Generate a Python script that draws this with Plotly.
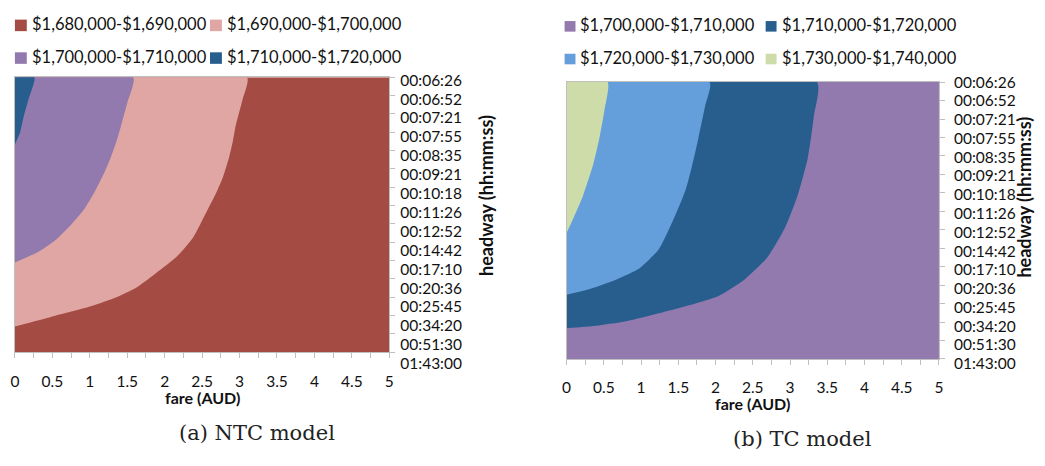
import plotly.graph_objects as go

W, H = 1045, 466

# ---------------- data ----------------
fare_ticks = [0, 0.5, 1, 1.5, 2, 2.5, 3, 3.5, 4, 4.5, 5]
headway_labels = ["00:06:26", "00:06:52", "00:07:21", "00:07:55", "00:08:35", "00:09:21",
                  "00:10:18", "00:11:26", "00:12:52", "00:14:42", "00:17:10", "00:20:36",
                  "00:25:45", "00:34:20", "00:51:30", "01:43:00"]

# NTC model: bands and boundaries (fare at headway-row position, row 0 = 00:06:26)
ntc_names = ["$1,680,000-$1,690,000", "$1,690,000-$1,700,000",
             "$1,700,000-$1,710,000", "$1,710,000-$1,720,000"]
ntc_colors = ["#A44B43", "#E0A6A4", "#9279AE", "#275E8E"]
ntc_b1690_fare = [3.10, 3.04, 2.95, 2.91, 2.86, 2.78, 2.69, 2.56, 2.38, 2.16, 1.89, 1.63, 1.32, 0.97, 0.53, 0.0]
ntc_b1690_row = [0.0, 1.22, 2.62, 3.50, 4.37, 5.42, 6.29, 7.34, 8.74, 9.79, 10.66, 11.45, 12.06, 12.55, 13.02, 13.60]
ntc_b1700_fare = [1.58, 1.50, 1.43, 1.37, 1.28, 1.19, 1.06, 0.93, 0.75, 0.53, 0.31, 0.0]
ntc_b1700_row = [0.0, 1.40, 2.45, 3.32, 4.37, 5.24, 6.29, 7.17, 8.04, 8.92, 9.53, 10.10]
ntc_b1710_fare = [0.26, 0.18, 0.12, 0.07, 0.0]
ntc_b1710_row = [0.0, 1.22, 2.10, 3.00, 3.67]

# TC model
tc_names = ["$1,700,000-$1,710,000", "$1,710,000-$1,720,000",
            "$1,720,000-$1,730,000", "$1,730,000-$1,740,000"]
tc_colors = ["#9279AE", "#275E8E", "#649FDC", "#CDDCA9"]
tc_b1710_fare = [3.36, 3.32, 3.24, 3.10, 2.93, 2.70, 2.39, 2.04, 1.73, 1.24, 0.80, 0.36, 0.0]
tc_b1710_row = [0.0, 1.83, 4.08, 6.17, 7.91, 9.47, 10.69, 11.59, 11.99, 12.52, 12.95, 13.21, 13.33]
tc_b1720_fare = [1.92, 1.86, 1.77, 1.68, 1.60, 1.46, 1.24, 0.98, 0.67, 0.31, 0.0]
tc_b1720_row = [0.0, 1.30, 3.04, 4.61, 5.82, 7.21, 9.04, 10.08, 10.69, 11.21, 11.52]
tc_b1730_fare = [0.55, 0.51, 0.44, 0.36, 0.22, 0.09, 0.0]
tc_b1730_row = [0.0, 1.48, 3.04, 4.43, 6.17, 7.39, 8.17]

captions = ["(a) NTC model", "(b) TC model"]
x_title = "fare (AUD)"
y_title = "headway (hh:mm:ss)"

# ---------------- layout geometry (pixels) ----------------
panels = [
    dict(x0=10, x1=388, y0=70, y1=356, ly0=73, ly1=368),
    dict(x0=567, x1=943, y0=75, y1=363, ly0=75, ly1=368),
]

def px(x):
    return x / W

def py(y):
    return 1 - y / H

fmin, fmax = fare_ticks[0], fare_ticks[-1]
rmin, rmax = 0, len(headway_labels) - 1

fig = go.Figure()

def add_panel(names, colors, boundaries, xs, ys):
    fig.add_trace(go.Scatter(x=[fmin, fmax, fmax, fmin], y=[rmin, rmin, rmax, rmax],
                             fill="toself", mode="lines", line=dict(width=0),
                             fillcolor=colors[0], name=names[0], showlegend=False,
                             xaxis=xs, yaxis=ys, hoverinfo="skip"))
    for i, (bf, br) in enumerate(boundaries):
        fig.add_trace(go.Scatter(x=[fmin] + bf, y=[rmin] + br,
                                 fill="toself", mode="lines",
                                 line=dict(width=0, shape="spline", smoothing=0.6),
                                 fillcolor=colors[i + 1], name=names[i + 1], showlegend=False,
                                 xaxis=xs, yaxis=ys, hoverinfo="skip"))

add_panel(ntc_names, ntc_colors,
          [(ntc_b1690_fare, ntc_b1690_row), (ntc_b1700_fare, ntc_b1700_row), (ntc_b1710_fare, ntc_b1710_row)],
          "x", "y")
add_panel(tc_names, tc_colors,
          [(tc_b1710_fare, tc_b1710_row), (tc_b1720_fare, tc_b1720_row), (tc_b1730_fare, tc_b1730_row)],
          "x2", "y2")
# label-only axes (Excel spreads the headway labels slightly more than the ticks)
fig.add_trace(go.Scatter(x=[None], y=[None], xaxis="x", yaxis="y3", showlegend=False, hoverinfo="skip"))
fig.add_trace(go.Scatter(x=[None], y=[None], xaxis="x2", yaxis="y4", showlegend=False, hoverinfo="skip"))

quarter_vals = [fmin + 0.25 * k for k in range(int((fmax - fmin) / 0.25) + 1)]
quarter_text = []
for v in quarter_vals:
    match = [t for t in fare_ticks if abs(t - v) < 1e-9]
    quarter_text.append(("%g" % match[0]) if match else "")

tickfont = dict(family="Lato", size=15.5, color="#111111")
axcol = "#BFBFBF"

layout = dict(width=W, height=H, margin=dict(l=0, r=0, t=0, b=0),
              paper_bgcolor="white", plot_bgcolor="rgba(0,0,0,0)", showlegend=False)

x_standoff = [10, 9]
y_standoff = [10, 14]
for k, p in enumerate(panels):
    sfx = "" if k == 0 else str(k + 1)
    lsfx = str(k + 3)
    layout["xaxis" + sfx] = dict(domain=[px(p["x0"]), px(p["x1"])], range=[fmin, fmax],
                                 anchor="y" + sfx, tickmode="array", tickvals=quarter_vals,
                                 ticktext=quarter_text, ticks="outside", ticklen=5, tickcolor=axcol,
                                 showline=True, linecolor=axcol, linewidth=1, mirror=True,
                                 showgrid=False, zeroline=False, tickfont=tickfont,
                                 ticklabelstandoff=x_standoff[k], fixedrange=True)
    layout["yaxis" + sfx] = dict(domain=[py(p["y1"]), py(p["y0"])], range=[rmax, rmin],
                                 anchor="x" + sfx, side="right", tickmode="array",
                                 tickvals=list(range(len(headway_labels))), showticklabels=False,
                                 ticks="outside", ticklen=5, tickcolor=axcol,
                                 showline=True, linecolor=axcol, linewidth=1, mirror=True,
                                 showgrid=False, zeroline=False, fixedrange=True)
    layout["yaxis" + lsfx] = dict(domain=[py(p["ly1"]), py(p["ly0"])], range=[rmax, rmin],
                                  anchor="x" + sfx, side="right", tickmode="array",
                                  tickvals=list(range(len(headway_labels))), ticktext=headway_labels,
                                  ticks="", showline=False, showgrid=False, zeroline=False,
                                  tickfont=tickfont, ticklabelstandoff=y_standoff[k], fixedrange=True)

fig.update_layout(**layout)

annotations = []
shapes = []
title_font = dict(family="Lato", size=16, color="#111111")
ytitle_font = dict(family="Lato", size=18, color="#111111")
xt_pos = [(199, 403), (755, 409)]
yt_pos = [(485, 193), (1029, 195)]
for k in range(2):
    annotations.append(dict(text="<b>%s</b>" % x_title, x=px(xt_pos[k][0]), y=py(xt_pos[k][1]),
                            xref="paper", yref="paper", showarrow=False, font=title_font,
                            xanchor="center", yanchor="middle"))
    annotations.append(dict(text="<b>%s</b>" % y_title, x=px(yt_pos[k][0]), y=py(yt_pos[k][1]),
                            xref="paper", yref="paper", showarrow=False, font=ytitle_font,
                            textangle=-90, xanchor="center", yanchor="middle"))

cap_pos = [(254, 440), (805, 446)]
for k in range(2):
    annotations.append(dict(text=captions[k], x=px(cap_pos[k][0]), y=py(cap_pos[k][1]),
                            xref="paper", yref="paper", showarrow=False,
                            font=dict(family="DejaVu Serif", size=21, color="#222222"),
                            xanchor="center", yanchor="middle"))

leg_font = dict(family="Lato", size=16.5, color="#111111")
legend_specs = [
    dict(names=ntc_names, colors=ntc_colors, cols=[10, 207], rows=[16, 50], sq=12),
    dict(names=tc_names, colors=tc_colors, cols=[565, 768], rows=[17, 51], sq=11),
]
for spec in legend_specs:
    for i, (nm, col) in enumerate(zip(spec["names"], spec["colors"])):
        cx = spec["cols"][i % 2]
        cy = spec["rows"][i // 2]
        s = spec["sq"]
        shapes.append(dict(type="rect", xref="paper", yref="paper",
                           x0=px(cx), x1=px(cx + s), y0=py(cy - s / 2), y1=py(cy + s / 2),
                           fillcolor=col, line=dict(width=0)))
        annotations.append(dict(text=nm, x=px(cx + s + 3), y=py(cy - 1), xref="paper", yref="paper",
                                showarrow=False, font=leg_font, xanchor="left", yanchor="middle"))

fig.update_layout(annotations=annotations, shapes=shapes)
fig.write_html("out.html")
